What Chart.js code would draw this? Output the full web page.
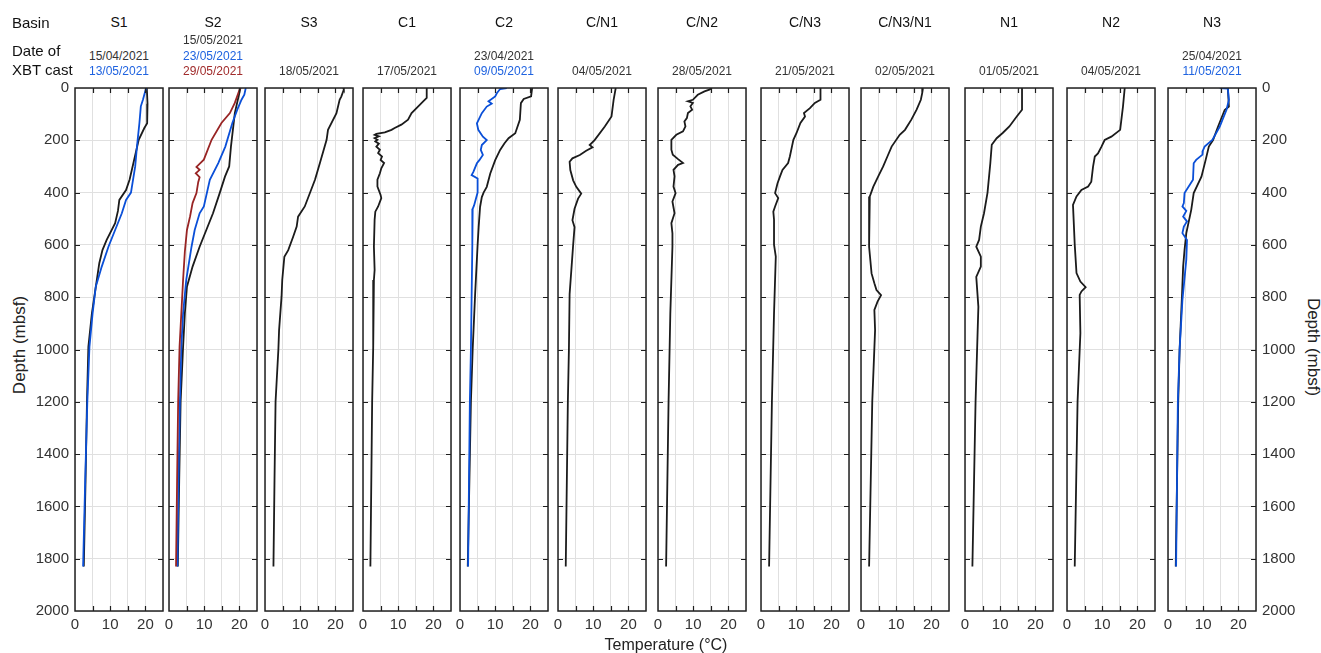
<!DOCTYPE html>
<html>
<head>
<meta charset="utf-8">
<script src="https://cdn.jsdelivr.net/npm/chart.js@4.4.1/dist/chart.umd.min.js"></script>
<style>
  body { margin: 0; background: #fff; width: 1321px; height: 653px; position: relative; overflow: hidden;
         font-family: "Liberation Sans", Arial, Helvetica, sans-serif; color: #222; }
  canvas { position: absolute; }
  .lbl { position: absolute; white-space: nowrap; line-height: 1; }
</style>
</head>
<body>
<script>
// basins and XBT cast dates (first date = black line, second = blue, third = red)
const basins = ['S1', 'S2', 'S3', 'C1', 'C2', 'C/N1', 'C/N2', 'C/N3', 'C/N3/N1', 'N1', 'N2', 'N3'];
const castDates = [
  ['15/04/2021', '13/05/2021'],
  ['15/05/2021', '23/05/2021', '29/05/2021'],
  ['18/05/2021'],
  ['17/05/2021'],
  ['23/04/2021', '09/05/2021'],
  ['04/05/2021'],
  ['28/05/2021'],
  ['21/05/2021'],
  ['02/05/2021'],
  ['01/05/2021'],
  ['04/05/2021'],
  ['25/04/2021', '11/05/2021']
];

// profiles: depth (mbsf) and temperature (°C)
const s1aDepth = [0, 60, 135, 153, 198, 287, 351, 390, 428, 470, 517, 581, 620, 670, 734, 798, 862, 990, 1200, 1500, 1830];
const s1aTemp  = [20.4, 20.6, 20.5, 19.7, 18.1, 16.6, 15.5, 14.5, 12.6, 12.2, 11.4, 9.0, 7.8, 6.9, 6.2, 5.5, 4.8, 3.8, 3.4, 3.0, 2.5];
const s1bDepth = [0, 45, 70, 134, 224, 300, 400, 428, 479, 543, 607, 683, 760, 862, 990, 1200, 1500, 1830];
const s1bTemp  = [20.2, 19.3, 18.7, 18.3, 17.6, 17.1, 15.9, 14.5, 13.3, 11.4, 9.5, 7.6, 5.9, 5.0, 4.1, 3.5, 2.9, 2.3];

const s2aDepth = [0, 96, 224, 300, 339, 402, 479, 543, 607, 683, 760, 862, 990, 1200, 1500, 1830];
const s2aTemp  = [20.3, 18.7, 17.6, 17.1, 15.9, 14.4, 12.5, 10.6, 8.7, 6.7, 5.1, 4.5, 4.0, 3.3, 2.9, 2.5];
const s2bDepth = [0, 26, 45, 83, 134, 224, 287, 351, 453, 479, 543, 607, 734, 862, 990, 1200, 1500, 1830];
const s2bTemp  = [21.8, 21.4, 20.6, 19.4, 18.0, 16.0, 14.0, 11.6, 9.9, 8.7, 7.3, 6.4, 4.9, 4.0, 3.5, 3.1, 2.7, 2.4];
const s2cDepth = [0, 19, 57, 96, 134, 198, 274, 302, 313, 326, 341, 360, 402, 440, 490, 543, 626, 734, 862, 990, 1200, 1500, 1830];
const s2cTemp  = [20.2, 19.7, 18.7, 17.3, 14.9, 12.1, 9.9, 7.8, 8.7, 7.6, 8.7, 8.3, 7.8, 6.7, 6.0, 5.1, 4.5, 4.0, 3.5, 3.0, 2.6, 2.3, 2.0];

const s3Depth = [0, 6, 32, 45, 96, 160, 198, 287, 351, 453, 492, 530, 569, 620, 645, 734, 798, 926, 1000, 1200, 1500, 1830];
const s3Temp  = [22.2, 22.4, 21.7, 21.2, 20.3, 17.9, 17.5, 15.6, 14.2, 11.3, 9.4, 9.0, 8.0, 6.6, 5.5, 4.9, 4.7, 4.0, 3.8, 3.0, 2.7, 2.4];

const c1Depth = [0, 38, 51, 70, 96, 121, 140, 153, 160, 170, 175, 179, 185, 192, 198, 204, 213, 224, 236, 249, 262, 275, 287, 307, 326, 351, 377, 409, 421, 453, 473, 504, 607, 696, 734, 990, 1200, 1830];
const c1Temp  = [18.1, 18.1, 17.1, 15.7, 13.8, 12.8, 10.9, 9.0, 8.1, 6.2, 3.8, 3.3, 4.5, 3.3, 4.1, 3.5, 4.5, 3.8, 4.8, 4.3, 5.4, 5.0, 6.0, 5.2, 4.8, 4.1, 4.1, 5.0, 5.2, 4.3, 3.5, 3.3, 3.1, 3.3, 3.1, 2.9, 2.6, 2.1];

const c2aDepth = [0, 32, 42, 58, 122, 173, 192, 212, 237, 276, 327, 378, 400, 417, 455, 532, 601, 788, 1000, 1200, 1830];
const c2aTemp  = [20.5, 20.2, 18.1, 17.3, 17.0, 15.7, 13.8, 12.6, 11.4, 10.0, 8.6, 7.6, 6.7, 6.2, 5.7, 5.3, 5.0, 4.3, 3.6, 3.1, 2.2];
const c2bDepth = [0, 4, 19, 32, 51, 60, 71, 96, 135, 160, 186, 199, 218, 237, 256, 276, 288, 321, 333, 346, 400, 449, 462, 601, 1000, 1200, 1830];
const c2bTemp  = [13.3, 11.4, 10.5, 10.0, 8.1, 9.0, 7.6, 6.2, 4.8, 5.2, 6.5, 7.6, 6.2, 5.9, 6.5, 5.5, 4.8, 3.8, 3.3, 5.0, 5.0, 4.0, 3.6, 3.5, 3.1, 2.8, 2.3];

const cn1Depth = [0, 45, 109, 147, 199, 218, 227, 240, 256, 269, 282, 314, 353, 378, 404, 423, 462, 506, 532, 601, 788, 1000, 1200, 1830];
const cn1Temp  = [16.4, 15.8, 15.2, 13.3, 10.4, 9.0, 9.8, 8.0, 6.2, 4.1, 3.3, 3.5, 4.3, 5.2, 6.6, 5.7, 4.7, 4.1, 4.7, 4.3, 3.3, 3.1, 2.8, 2.2];

const cn2Depth = [0, 6, 13, 26, 45, 51, 57, 70, 83, 96, 115, 128, 147, 166, 179, 198, 236, 255, 272, 287, 294, 313, 338, 377, 402, 434, 479, 517, 556, 607, 862, 1200, 1830];
const cn2Temp  = [15.3, 14.6, 13.2, 11.3, 9.9, 8.5, 9.9, 9.2, 9.7, 8.5, 8.2, 7.5, 7.8, 7.1, 5.2, 3.8, 3.8, 4.2, 5.7, 7.1, 5.7, 4.4, 4.7, 4.4, 5.0, 4.1, 4.7, 3.8, 4.1, 4.1, 3.5, 3.0, 2.3];

const cn3Depth = [0, 45, 57, 77, 96, 109, 134, 172, 198, 262, 287, 313, 338, 364, 402, 421, 453, 473, 504, 599, 645, 862, 1200, 1830];
const cn3Temp  = [16.9, 16.9, 15.3, 13.9, 12.2, 12.5, 11.2, 10.1, 9.2, 8.2, 7.7, 6.1, 5.4, 4.7, 4.0, 4.9, 4.0, 3.5, 3.7, 3.7, 4.2, 3.7, 3.1, 2.3];

const cn3n1Depth = [0, 19, 45, 83, 121, 160, 179, 224, 262, 300, 338, 377, 415, 479, 607, 709, 747, 773, 792, 817, 849, 926, 1200, 1830];
const cn3n1Temp  = [17.6, 17.4, 17.0, 15.8, 14.3, 12.5, 11.0, 8.7, 7.5, 6.3, 4.9, 3.5, 2.5, 2.3, 2.3, 3.0, 3.8, 4.4, 5.7, 4.7, 3.8, 4.0, 3.2, 2.3];

const n1Depth = [0, 83, 109, 147, 172, 192, 217, 287, 400, 479, 530, 581, 607, 645, 683, 722, 837, 926, 1200, 1830];
const n1Temp  = [16.2, 16.2, 14.7, 12.6, 10.7, 9.0, 7.6, 7.2, 6.4, 5.4, 4.5, 4.0, 3.2, 4.5, 4.5, 3.2, 3.8, 3.6, 3.0, 2.1];

const n2Depth = [0, 71, 160, 186, 199, 224, 250, 262, 301, 358, 377, 390, 415, 447, 600, 708, 740, 762, 778, 791, 938, 1200, 1830];
const n2Temp  = [16.4, 15.9, 15.1, 12.6, 10.7, 9.8, 8.8, 7.9, 7.4, 6.9, 6.0, 4.1, 2.7, 1.7, 2.2, 2.7, 3.8, 5.3, 4.1, 3.6, 3.8, 3.0, 2.2];

const n3aDepth = [0, 71, 84, 148, 199, 224, 275, 339, 402, 466, 555, 619, 683, 785, 1000, 1200, 1830];
const n3aTemp  = [17.0, 17.3, 16.1, 14.2, 12.8, 11.6, 10.7, 9.5, 7.3, 6.6, 5.2, 4.7, 4.3, 4.0, 3.3, 2.9, 2.2];
const n3bDepth = [0, 2, 46, 84, 148, 199, 224, 240, 255, 275, 288, 351, 402, 440, 453, 470, 492, 510, 530, 555, 581, 657, 810, 1000, 1200, 1830];
const n3bTemp  = [14.7, 17.0, 17.3, 16.6, 14.7, 12.6, 10.4, 9.9, 9.8, 8.0, 7.3, 7.1, 4.7, 4.5, 4.1, 5.2, 4.3, 5.4, 4.5, 4.1, 5.4, 5.2, 4.1, 3.3, 2.8, 2.3];

const profiles = [
  [[s1aDepth, s1aTemp], [s1bDepth, s1bTemp]],
  [[s2aDepth, s2aTemp], [s2bDepth, s2bTemp], [s2cDepth, s2cTemp]],
  [[s3Depth, s3Temp]],
  [[c1Depth, c1Temp]],
  [[c2aDepth, c2aTemp], [c2bDepth, c2bTemp]],
  [[cn1Depth, cn1Temp]],
  [[cn2Depth, cn2Temp]],
  [[cn3Depth, cn3Temp]],
  [[cn3n1Depth, cn3n1Temp]],
  [[n1Depth, n1Temp]],
  [[n2Depth, n2Temp]],
  [[n3aDepth, n3aTemp], [n3bDepth, n3bTemp]]
];

const lineColors = ['#1b1b1b', '#0a4fd8', '#982424'];
const dateColors = ['#333333', '#1f63e0', '#a12c2c'];

// layout
const panelLeft = [75, 169, 265, 363, 460, 558, 658, 761, 861, 965, 1067, 1168];
const panelW = 88, plotTop = 88, plotBottom = 611;
const FONT = '"Liberation Sans", Arial, Helvetica, sans-serif';
const AX = 45, XH = 30, CTOP = 70;

function label(text, x, y, size, color, align, extra) {
  const d = document.createElement('div');
  d.className = 'lbl';
  d.textContent = text;
  d.style.left = x + 'px';
  d.style.top = y + 'px';
  d.style.fontSize = size + 'px';
  d.style.color = color || '#222';
  let tx = align === 'center' ? '-50%' : '0';
  d.style.transform = 'translate(' + tx + ',-50%)' + (extra || '');
  document.body.appendChild(d);
  return d;
}

// box round each panel plus inward tick marks on all four sides
const framePlugin = {
  id: 'frame',
  afterDraw(chart) {
    const ctx = chart.ctx, a = chart.chartArea;
    const x = chart.scales.x, y = chart.scales.y;
    ctx.save();
    ctx.strokeStyle = '#1e1e1e';
    ctx.lineWidth = 1.2;
    ctx.beginPath();
    x.ticks.forEach(t => {
      if (t.value <= x.min || t.value >= x.max) return;
      const px = Math.round(x.getPixelForValue(t.value)) + 0.5;
      ctx.moveTo(px, a.bottom); ctx.lineTo(px, a.bottom - 5);
      ctx.moveTo(px, a.top); ctx.lineTo(px, a.top + 5);
    });
    y.ticks.forEach(t => {
      if (t.value <= y.min || t.value >= y.max) return;
      const py = Math.round(y.getPixelForValue(t.value)) + 0.5;
      ctx.moveTo(a.left, py); ctx.lineTo(a.left + 5, py);
      ctx.moveTo(a.right, py); ctx.lineTo(a.right - 5, py);
    });
    ctx.stroke();
    ctx.lineWidth = 1.5;
    ctx.strokeStyle = '#222';
    ctx.strokeRect(a.left, a.top, a.right - a.left, a.bottom - a.top);
    ctx.restore();
  }
};

basins.forEach((name, i) => {
  const last = i === basins.length - 1;
  const first = i === 0;
  const canvas = document.createElement('canvas');
  const cw = panelW + 2 * AX, ch = plotBottom + XH - CTOP;
  canvas.width = cw; canvas.height = ch;
  canvas.style.left = (panelLeft[i] - AX) + 'px';
  canvas.style.top = CTOP + 'px';
  canvas.style.width = cw + 'px'; canvas.style.height = ch + 'px';
  document.body.appendChild(canvas);

  const datasets = profiles[i].map((p, k) => ({
    data: p[0].map((d, j) => ({ x: p[1][j], y: d })),
    borderColor: lineColors[k],
    borderWidth: 1.8,
    pointRadius: 0,
    showLine: true,
    tension: 0,
    order: 3 - k
  }));

  new Chart(canvas.getContext('2d'), {
    type: 'scatter',
    data: { datasets: datasets },
    options: {
      responsive: false,
      animation: false,
      events: [],
      layout: { padding: { top: plotTop - CTOP, bottom: 0, left: last ? AX : 0, right: last ? 0 : AX } },
      plugins: { legend: { display: false }, tooltip: { enabled: false } },
      scales: {
        x: {
          type: 'linear', min: 0, max: 25, position: 'bottom',
          grid: { color: '#e0e0e0', drawTicks: false, lineWidth: 1 },
          border: { display: false },
          ticks: {
            stepSize: 5, autoSkip: false, maxRotation: 0, padding: 5,
            color: '#333', font: { size: 15, family: FONT },
            callback: v => (v % 10 === 0 && v < 25) ? String(v) : ''
          },
          afterFit: s => { s.height = XH; }
        },
        y: {
          type: 'linear', min: 0, max: 2000, reverse: true, position: last ? 'right' : 'left',
          grid: { color: '#e0e0e0', drawTicks: false, lineWidth: 1 },
          border: { display: false },
          ticks: {
            stepSize: 200, display: first || last, padding: 6,
            color: '#333', font: { size: 15, family: FONT },
            callback: v => String(v)
          },
          afterFit: s => { s.width = AX; }
        }
      }
    },
    plugins: [framePlugin]
  });

  // header texts
  const cx = panelLeft[i] + panelW / 2;
  label(name, cx, 22, 14, '#111', 'center');
  const dates = castDates[i];
  const ys = [71, 56, 40];
  dates.forEach((dt, k) => {
    label(dt, cx, ys[dates.length - 1 - k], 12, dateColors[k], 'center');
  });
});

label('Basin', 12, 22, 15, '#111');
label('Date of', 12, 50, 15, '#111');
label('XBT cast', 12, 69, 15, '#111');
label('Temperature (\u00b0C)', 666, 645, 16, '#222', 'center');
label('Depth (mbsf)', 19, 345, 17, '#222', 'center', ' rotate(-90deg)');
label('Depth (mbsf)', 1313, 347, 17, '#222', 'center', ' rotate(90deg)');
</script>
</body>
</html>
